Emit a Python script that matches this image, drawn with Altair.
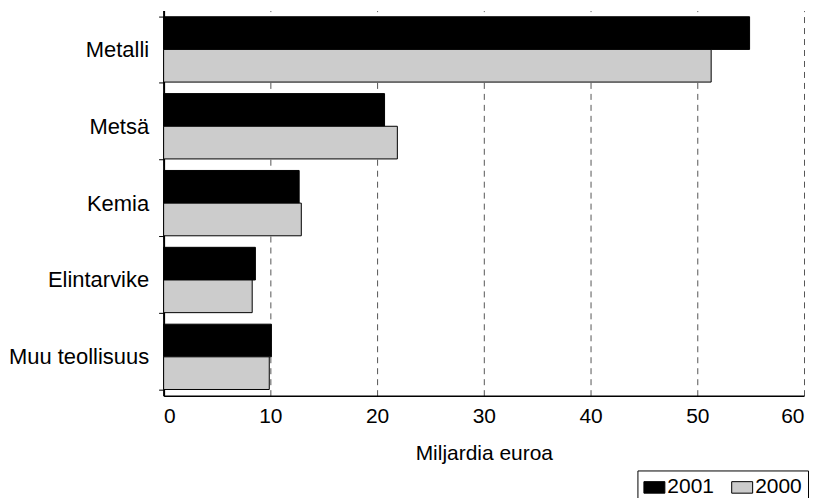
import altair as alt
import pandas as pd

categories = ["Metalli", "Metsä", "Kemia", "Elintarvike", "Muu teollisuus"]
years = ["2001", "2000"]
values_2001 = [54.9, 20.7, 12.7, 8.6, 10.1]
values_2000 = [51.3, 21.9, 12.9, 8.3, 9.9]

rows = []
for c, a, b in zip(categories, values_2001, values_2000):
    rows.append({"ala": c, "vuosi": "2001", "arvo": a})
    rows.append({"ala": c, "vuosi": "2000", "arvo": b})
df = pd.DataFrame(rows)

FONT = "Liberation Sans"

chart = alt.Chart(df).mark_bar(stroke="black", strokeWidth=1).encode(
    y=alt.Y("ala:N", sort=categories,
            scale=alt.Scale(paddingInner=0.15, paddingOuter=0.08),
            axis=alt.Axis(title=None, labelFontSize=22, labelPadding=10,
                          labelColor="black", domainColor="black", domainWidth=2,
                          tickColor="black", tickSize=5, tickBand="extent",
                          grid=False, labelFont=FONT)),
    yOffset=alt.YOffset("vuosi:N", sort=years),
    x=alt.X("arvo:Q", scale=alt.Scale(domain=[0, 60], nice=False),
            axis=alt.Axis(title="Miljardia euroa", values=[0, 10, 20, 30, 40, 50, 60],
                          format="d", labelFontSize=21, labelPadding=10, labelColor="black",
                          titleFontSize=21, titleFontWeight="normal", titlePadding=16,
                          titleColor="black", domainColor="black", domainWidth=1.5,
                          ticks=False, grid=True, gridDash=[6, 5], gridColor="#555555",
                          gridWidth=1, labelFont=FONT, titleFont=FONT)),
    color=alt.Color("vuosi:N", sort=years,
                    scale=alt.Scale(domain=years, range=["#000000", "#cccccc"]),
                    legend=alt.Legend(title=None, orient="none", legendX=475, legendY=461,
                                      direction="horizontal",
                                      symbolType="M-1,-0.55H1V0.55H-1Z",
                                      symbolSize=441, symbolStrokeColor="black",
                                      symbolStrokeWidth=1, labelFontSize=21,
                                      labelFont=FONT, labelColor="black",
                                      strokeColor="black", padding=6,
                                      columnPadding=15, labelOffset=2)),
).properties(
    width=642, height=386,
    autosize=alt.AutoSizeParams(type="none"),
    padding={"left": 156, "top": 2, "right": 6, "bottom": 104},
).configure_view(stroke=None)

chart.save("out.html", embed_options={"renderer": "svg", "actions": False})
